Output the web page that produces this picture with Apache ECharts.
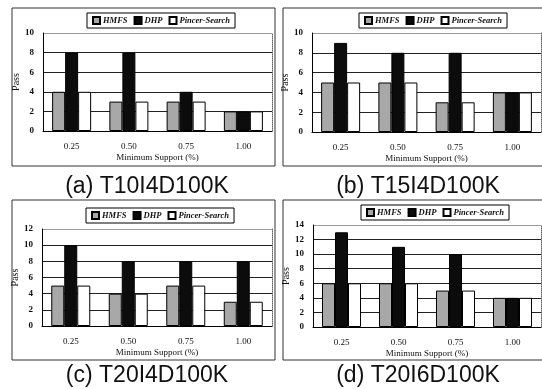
<!DOCTYPE html>
<html>
<head>
<meta charset="utf-8">
<script src="https://cdn.jsdelivr.net/npm/echarts@6/dist/echarts.min.js"></script>
<style>
html,body{margin:0;padding:0;background:#fff;}
#chart{width:542px;height:389px;}
</style>
</head>
<body>
<div id="chart"></div>
<script>
// ---- data ----
const categories = ['0.25', '0.50', '0.75', '1.00'];
const seriesNames = ['HMFS', 'DHP', 'Pincer-Search'];
const hmfsA = [4, 3, 3, 2];
const dhpA = [8, 8, 4, 2];
const pincerA = [4, 3, 3, 2];
const hmfsB = [5, 5, 3, 4];
const dhpB = [9, 8, 8, 4];
const pincerB = [5, 5, 3, 4];
const hmfsC = [5, 4, 5, 3];
const dhpC = [10, 8, 8, 8];
const pincerC = [5, 4, 5, 3];
const hmfsD = [6, 6, 5, 4];
const dhpD = [13, 11, 10, 4];
const pincerD = [6, 6, 5, 4];
const yMaxes = [10, 10, 12, 14];
const yInterval = 2;
const captions = ['(a) T10I4D100K', '(b) T15I4D100K', '(c) T20I4D100K', '(d) T20I6D100K'];
const xAxisName = 'Minimum Support (%)';
const yAxisName = 'Pass';

const panelData = [
  [hmfsA, dhpA, pincerA],
  [hmfsB, dhpB, pincerB],
  [hmfsC, dhpC, pincerC],
  [hmfsD, dhpD, pincerD]
];

// ---- layout / style ----
const grids = [
  {left: 43, top: 33, width: 229, height: 98},
  {left: 312, top: 33, width: 229, height: 99},
  {left: 42, top: 229, width: 230, height: 97},
  {left: 313, top: 225, width: 228, height: 102}
];
const frames = [
  {x: 12, y: 8, w: 263, h: 158},
  {x: 283, y: 8, w: 262, h: 158},
  {x: 12, y: 200, w: 263, h: 160},
  {x: 283, y: 200, w: 262, h: 160}
];
const legendPos = [
  {left: 87, top: 13},
  {left: 359, top: 13},
  {left: 86, top: 208},
  {left: 361, top: 205}
];
const captionPos = [
  {x: 142, y: 170},
  {x: 413, y: 170},
  {x: 142, y: 359},
  {x: 413, y: 359}
];
const serif = 'Liberation Serif';
const barColors = ['#a8a8a8', '#0c0c0c', '#ffffff'];

const option = {
  animation: false,
  backgroundColor: '#fff',
  grid: [], xAxis: [], yAxis: [], series: [], legend: [], title: [],
  graphic: []
};

for (let p = 0; p < 4; p++) {
  option.grid.push(Object.assign({containLabel: false}, grids[p]));
  option.xAxis.push({
    type: 'category', gridIndex: p, data: categories,
    axisTick: {show: false},
    axisLine: {lineStyle: {color: '#000', width: 1}},
    axisLabel: {fontFamily: serif, fontSize: 9, color: '#111', margin: 11},
    name: xAxisName, nameLocation: 'middle', nameGap: 22,
    nameTextStyle: {fontFamily: serif, fontSize: 9, color: '#111'}
  });
  const nLines = yMaxes[p] / yInterval + 1;
  const cols = [];
  for (let i = 0; i < nLines; i++) cols.push(i === nLines - 1 ? '#9a9a9a' : '#222');
  option.yAxis.push({
    type: 'value', gridIndex: p, min: 0, max: yMaxes[p], interval: yInterval,
    axisTick: {show: false},
    axisLine: {show: true, lineStyle: {color: '#000', width: 1}},
    axisLabel: {fontFamily: serif, fontSize: 9, color: '#111', margin: 9, fontWeight: 'bold'},
    splitLine: {show: true, lineStyle: {color: cols, width: 1}},
    name: yAxisName, nameLocation: 'middle', nameGap: 22, nameRotate: 90,
    nameTextStyle: {fontFamily: serif, fontSize: 10, color: '#111'}
  });
  option.yAxis.push({
    type: 'value', gridIndex: p, min: 0, max: yMaxes[p], interval: yInterval,
    position: 'right',
    axisTick: {show: false}, axisLabel: {show: false}, splitLine: {show: false},
    axisLine: {show: true, lineStyle: {color: '#666', width: 1, type: 'dotted'}}
  });
  for (let s = 0; s < 3; s++) {
    option.series.push({
      type: 'bar', name: seriesNames[s],
      xAxisIndex: p, yAxisIndex: p * 2,
      data: panelData[p][s],
      barWidth: 13, barGap: '0%',
      itemStyle: {color: barColors[s], borderColor: '#000', borderWidth: 1}
    });
  }
  option.legend.push({
    data: seriesNames,
    left: legendPos[p].left, top: legendPos[p].top,
    orient: 'horizontal',
    icon: 'rect', itemWidth: 7, itemHeight: 7, itemGap: 6,
    padding: [3, 5, 3, 5],
    borderColor: '#000', borderWidth: 1,
    selectedMode: false,
    textStyle: {fontFamily: serif, fontSize: 8.5, fontStyle: 'italic', fontWeight: 'bold', color: '#111', padding: [0, 0, 0, -2]}
  });
  option.title.push({
    text: captions[p],
    left: captionPos[p].x, top: captionPos[p].y,
    textAlign: 'center',
    textStyle: {fontFamily: 'Liberation Sans', fontSize: 23, fontWeight: 'normal', color: '#111'}
  });
  option.graphic.push({
    type: 'rect', silent: true, z: -1,
    shape: {x: frames[p].x, y: frames[p].y, width: frames[p].w, height: frames[p].h},
    style: {fill: 'none', stroke: '#333', lineWidth: 1}
  });
}

const chart = echarts.init(document.getElementById('chart'), null, {renderer: 'canvas'});
chart.setOption(option);
</script>
</body>
</html>
